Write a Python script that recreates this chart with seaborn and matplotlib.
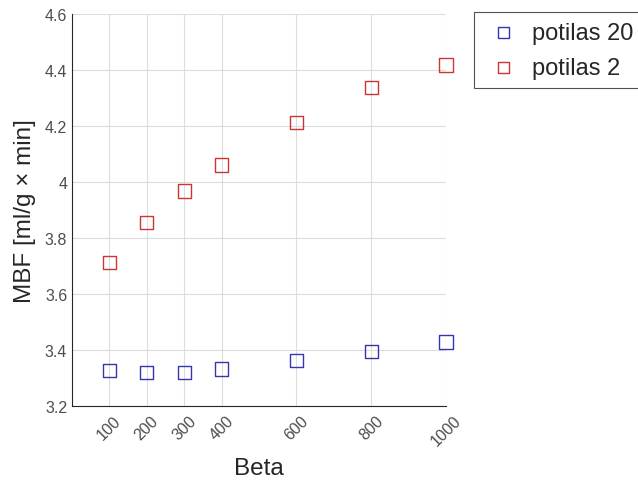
import matplotlib
matplotlib.use("Agg")
import matplotlib.pyplot as plt
import seaborn as sns
import pandas as pd

beta = [100, 200, 300, 400, 600, 800, 1000]
mbf_potilas20 = [3.326, 3.318, 3.318, 3.332, 3.362, 3.393, 3.428]
mbf_potilas2 = [3.711, 3.854, 3.968, 4.061, 4.214, 4.339, 4.418]
series_names = ["potilas 20", "potilas 2"]
x_ticks = [100, 200, 300, 400, 600, 800, 1000]
y_ticks = [3.2, 3.4, 3.6, 3.8, 4.0, 4.2, 4.4, 4.6]

df = pd.concat([
    pd.DataFrame({"Beta": beta, "MBF": mbf_potilas20, "series": series_names[0]}),
    pd.DataFrame({"Beta": beta, "MBF": mbf_potilas2, "series": series_names[1]}),
])

sns.set_theme(style="whitegrid")
plt.rcParams['font.family'] = ['Liberation Sans', 'DejaVu Sans']

fig = plt.figure(figsize=(6.38, 4.89), dpi=100)
ax = fig.add_axes([0.113, 0.168, 0.586, 0.801])

palette = {series_names[0]: "#3535b0", series_names[1]: "#cc3535"}
for name in series_names:
    sub = df[df["series"] == name]
    sns.scatterplot(data=sub, x="Beta", y="MBF", ax=ax, marker="s", s=90,
                    facecolors="none", edgecolor=palette[name], linewidth=1.0,
                    label=name, clip_on=False, zorder=3)

ax.set_xlim(0, 1000)
ax.set_ylim(3.2, 4.6)
ax.set_xticks(x_ticks)
ax.set_xticklabels([str(v) for v in x_ticks], rotation=45, ha="center", va="top")
ax.set_yticks(y_ticks)
ax.set_yticklabels(["3.2", "3.4", "3.6", "3.8", "4", "4.2", "4.4", "4.6"])
ax.tick_params(axis="both", labelsize=11.5, labelcolor="#4d4d4d", color="#262626",
               length=3, direction="in")
ax.tick_params(axis="x", pad=5)
ax.set_xlabel("Beta", fontsize=17.5, color="#262626", labelpad=6)
ax.set_ylabel("MBF [ml/g \u00d7 min]", fontsize=17.5, color="#262626", labelpad=6)

ax.set_facecolor("white")
ax.grid(True, color="#dcdcdc", linewidth=0.8)
for side in ["top", "right"]:
    ax.spines[side].set_visible(False)
for side in ["left", "bottom"]:
    ax.spines[side].set_color("#262626")
    ax.spines[side].set_linewidth(0.8)

leg = ax.legend(loc="upper left", bbox_to_anchor=(0.743, 0.973), bbox_transform=fig.transFigure,
                fontsize=17, frameon=True, fancybox=False, borderaxespad=0,
                handlelength=1.7, handletextpad=0.36, labelspacing=0.55, borderpad=0.4,
                markerscale=0.85)
leg.get_frame().set_edgecolor("#262626")
leg.get_frame().set_linewidth(0.8)

fig.savefig("out.png", dpi=100, facecolor="white")
